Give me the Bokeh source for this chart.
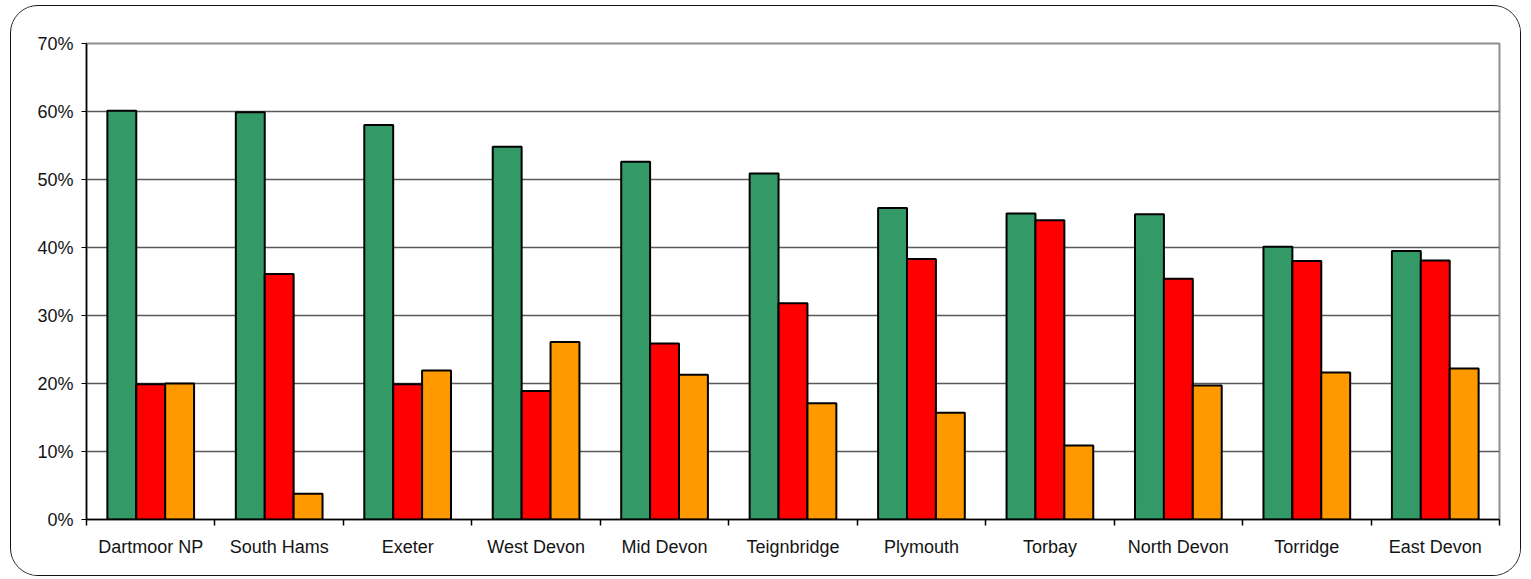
from bokeh.plotting import figure
from bokeh.models import ColumnDataSource, Range1d, LinearAxis, FixedTicker
from bokeh.transform import dodge
from bokeh.embed import file_html
from bokeh.resources import INLINE

# Share of responses (%) by area, three answer groups
areas = ["Dartmoor NP", "South Hams", "Exeter", "West Devon", "Mid Devon",
         "Teignbridge", "Plymouth", "Torbay", "North Devon", "Torridge", "East Devon"]
green_vals = [60.1, 59.9, 58.0, 54.8, 52.6, 50.9, 45.8, 45.0, 44.9, 40.1, 39.5]
red_vals = [19.9, 36.1, 19.9, 18.9, 25.9, 31.8, 38.3, 44.0, 35.4, 38.0, 38.1]
orange_vals = [20.0, 3.8, 21.9, 26.1, 21.3, 17.1, 15.7, 10.9, 19.7, 21.6, 22.2]

y_ticks = [0, 10, 20, 30, 40, 50, 60, 70]
y_tick_labels = ["0%", "10%", "20%", "30%", "40%", "50%", "60%", "70%"]

FONT = "Liberation Sans"
TEXT_COLOR = "#141414"

# each area occupies one unit slot; its group is centred in the slot
n = len(areas)
centers = [i + 0.5 for i in range(n)]
edges = list(range(n + 1))

source = ColumnDataSource(dict(pos=centers, area=areas, green=green_vals,
                               red=red_vals, orange=orange_vals))

p = figure(
    x_range=Range1d(0, n),
    y_range=Range1d(0, 70),
    x_axis_location=None,
    width=1511, height=571,
    min_border_left=75, min_border_right=23, min_border_top=37, min_border_bottom=58,
    output_backend="svg", toolbar_location=None,
)
p.styles = {"margin-left": "10px", "margin-top": "5px",
            "border": "1.5px solid #111", "border-radius": "28px",
            "box-sizing": "border-box", "overflow": "hidden"}
p.background_fill_color = "white"
p.border_fill_color = "white"
p.outline_line_color = "#8f8f8f"
p.outline_line_width = 2

bar_w = 0.225
common = dict(source=source, width=bar_w, line_color="black", line_width=2)
p.vbar(x=dodge("pos", -bar_w), top="green", fill_color="#339966", **common)
p.vbar(x=dodge("pos", 0), top="red", fill_color="#FF0000", **common)
p.vbar(x=dodge("pos", bar_w), top="orange", fill_color="#FF9900", **common)

# y axis
p.yaxis.ticker = FixedTicker(ticks=y_ticks)
p.yaxis.major_label_overrides = {t: lab for t, lab in zip(y_ticks, y_tick_labels)}
p.yaxis.axis_line_color = "black"
p.yaxis.axis_line_width = 1.5
p.yaxis.major_tick_line_color = "black"
p.yaxis.major_tick_out = 5
p.yaxis.major_tick_in = 0
p.yaxis.minor_tick_line_color = None
p.yaxis.major_label_standoff = 8
p.yaxis.major_label_text_font = FONT
p.yaxis.major_label_text_font_size = "18px"
p.yaxis.major_label_text_color = TEXT_COLOR

p.ygrid.ticker = FixedTicker(ticks=y_ticks)
p.ygrid.grid_line_color = "#5a5a5a"
p.ygrid.grid_line_width = 1.5
p.xgrid.visible = False

# x axis: names under each group, short ticks between groups
x_axis = LinearAxis(ticker=FixedTicker(ticks=centers, minor_ticks=edges))
x_axis.major_label_overrides = {c: a for c, a in zip(centers, areas)}
x_axis.axis_line_color = "black"
x_axis.axis_line_width = 1.5
x_axis.major_tick_line_color = None
x_axis.major_tick_out = 6
x_axis.major_tick_in = 0
x_axis.minor_tick_line_color = "black"
x_axis.minor_tick_line_width = 1.5
x_axis.minor_tick_out = 6
x_axis.minor_tick_in = 0
x_axis.major_label_standoff = 11
x_axis.major_label_text_font = FONT
x_axis.major_label_text_font_size = "18px"
x_axis.major_label_text_color = TEXT_COLOR
p.add_layout(x_axis, "below")

open("out.html", "w").write(file_html(p, INLINE))
